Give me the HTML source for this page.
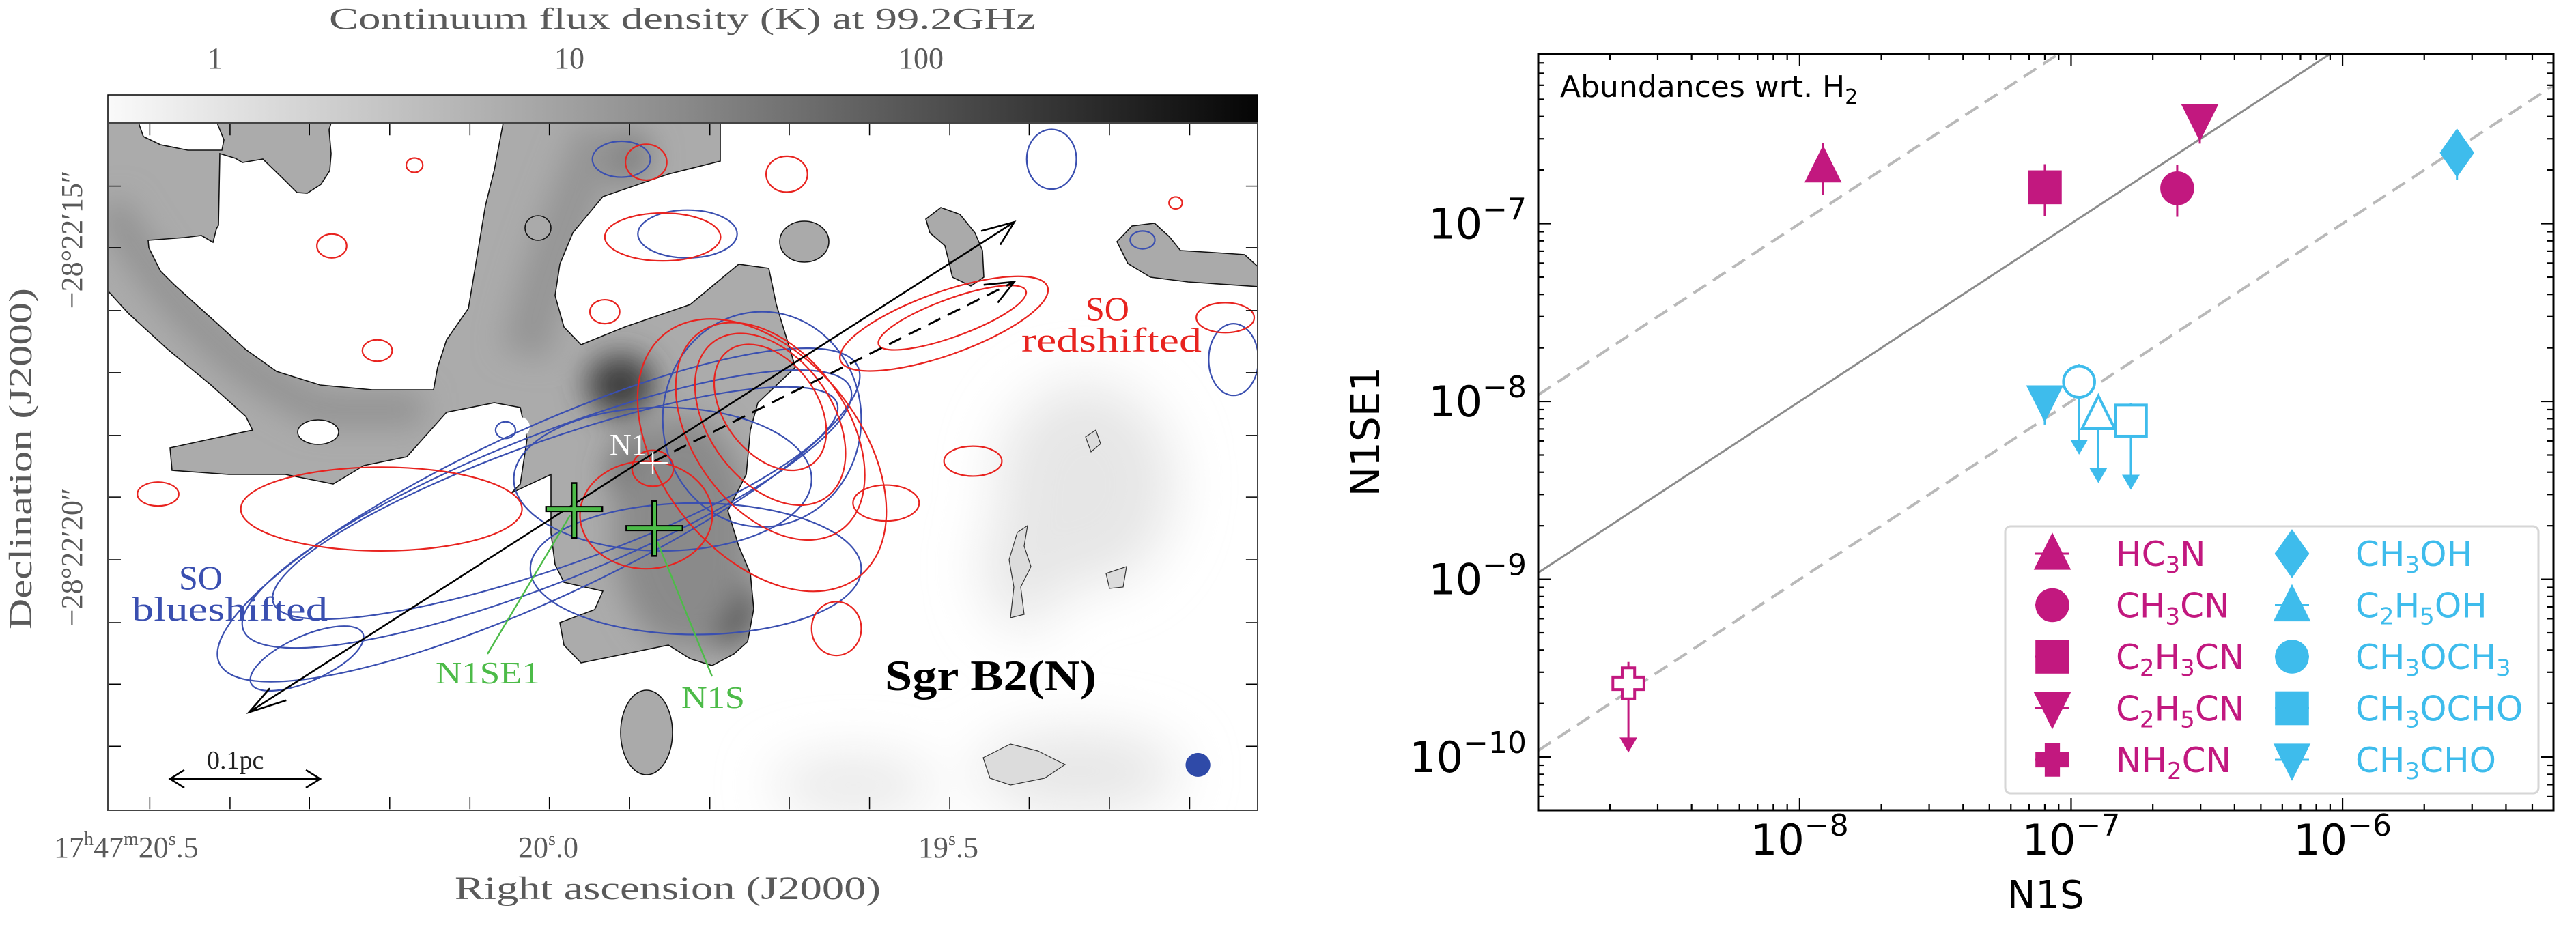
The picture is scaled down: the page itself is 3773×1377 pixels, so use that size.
<!DOCTYPE html>
<html><head><meta charset="utf-8"><style>
html,body{margin:0;padding:0;background:#fff;}
svg{display:block;}
.gl{font-family:"Liberation Serif",serif;fill:#5a5a5a;}
.dv{font-family:"DejaVu Sans","Liberation Sans",sans-serif;}
</style></head><body>
<svg id="root" xmlns="http://www.w3.org/2000/svg" width="3773" height="1377" viewBox="0 0 3773 1377">
<defs>
<linearGradient id="cb" x1="0" x2="1" y1="0" y2="0"><stop offset="0" stop-color="#fafafa"/><stop offset="0.5" stop-color="#8a8a8a"/><stop offset="1" stop-color="#050505"/></linearGradient>
<filter id="bl" x="-50%" y="-50%" width="200%" height="200%"><feGaussianBlur stdDeviation="22"/></filter>
<filter id="bl2" x="-50%" y="-50%" width="200%" height="200%"><feGaussianBlur stdDeviation="40"/></filter>
<clipPath id="mapclip"><rect x="158" y="180" width="1684" height="1007"/></clipPath>
</defs>

<g>
<text class="gl" x="482" y="42" font-size="44" textLength="1035" lengthAdjust="spacingAndGlyphs">Continuum flux density (K) at 99.2GHz</text>
<text class="gl" x="315" y="100" font-size="44" text-anchor="middle">1</text>
<text class="gl" x="834" y="100" font-size="44" text-anchor="middle">10</text>
<text class="gl" x="1349" y="100" font-size="44" text-anchor="middle">100</text>
<rect x="158" y="139" width="1684" height="41" fill="url(#cb)" stroke="#000" stroke-width="1.5"/>

<g clip-path="url(#mapclip)">
 <rect x="158" y="180" width="1684" height="1007" fill="#ababab"/>
 <g filter="url(#bl)">
  <ellipse cx="909" cy="564" rx="50" ry="45" fill="#3c3c3c"/>
  <ellipse cx="1056" cy="886" rx="50" ry="60" fill="#3a3a3a"/>
  <ellipse cx="953" cy="695" rx="60" ry="60" fill="#5c5c5c"/>
  <ellipse cx="915" cy="229" rx="40" ry="40" fill="#808080"/>
  <path d="M160,300 C230,420 330,540 470,600 L620,600" stroke="#939393" stroke-width="50" fill="none"/>
  <path d="M880,190 C830,320 790,420 770,520" stroke="#959595" stroke-width="70" fill="none"/>
  <ellipse cx="1000" cy="780" rx="100" ry="170" fill="#8a8a8a"/>
 </g>
 <g fill="#fff" stroke="#111" stroke-width="1.6">
  <polygon points="203,180 210,200 235,212 275,220 325,220 328,205 320,185 318,180"/>
  <polygon points="322,225 345,232 355,238 385,233 415,262 435,282 450,283 470,270 483,250 485,225 482,190 485,180 737,180 724,249 711,301 698,380 686,452 654,498 641,538 635,571 545,571 469,564 405,544 360,512 316,472 255,417 235,397 218,363 217,352 270,348 295,345 312,355 317,335 320,330"/>
  <polygon points="158,426 188,459 246,512 309,564 360,610 370,630 309,643 249,656 252,689 335,695 418,695 488,709 533,682 596,669 654,604 724,590 762,597 772,643 762,709 749,722 807,695 807,781 813,827 826,853 883,866 871,893 820,912 826,945 851,971 915,958 979,945 1011,965 1043,975 1075,958 1095,940 1104,892 1099,840 1082,800 1066,748 1093,695 1099,630 1110,590 1165,538 1137,446 1126,393 1082,387 1011,446 915,479 851,505 826,479 813,433 820,387 839,341 883,288 979,255 1055,236 1055,180 1850,180 1850,1195 150,1195 150,426"/>
  <ellipse cx="466" cy="633" rx="30" ry="18"/>
  <ellipse cx="762" cy="625" rx="14" ry="14" stroke="none"/>
 </g>
 <g filter="url(#bl2)" fill="#e6e6e6">
  <ellipse cx="1590" cy="710" rx="130" ry="150"/>
  <ellipse cx="1580" cy="1130" rx="150" ry="60"/>
  <ellipse cx="1250" cy="1150" rx="120" ry="40"/>
  <ellipse cx="1500" cy="830" rx="60" ry="90"/>
 </g>
 <g fill="#aaa" stroke="#111" stroke-width="1.6">
  <ellipse cx="1178" cy="354" rx="36" ry="30"/>
  <polygon points="1356,321 1378,304 1406,314 1428,341 1439,367 1441,406 1422,419 1395,406 1389,380 1384,360 1362,341"/>
  <polygon points="1636,354 1658,331 1691,327 1713,347 1729,367 1779,370 1823,373 1845,393 1845,420 1740,413 1685,406 1652,386"/>
  <ellipse cx="947" cy="1073" rx="38" ry="62"/>
  <ellipse cx="788" cy="334" rx="19" ry="18"/>
 </g>
 <g fill="#dcdcdc" stroke="#333" stroke-width="1.2">
  <polygon points="1590,640 1605,630 1612,650 1598,662"/>
  <polygon points="1490,780 1505,770 1500,800 1510,830 1495,860 1500,900 1480,905 1485,860 1478,820"/>
  <polygon points="1440,1110 1480,1090 1520,1100 1560,1120 1530,1140 1480,1150 1450,1140"/>
  <polygon points="1620,840 1650,830 1645,860 1625,862"/>
 </g>
 <g transform="matrix(1.2117 0 0 0.8758 1.28 1.18)">
 <g fill="none" stroke="#3a4fb0">
  <ellipse vector-effect="non-scaling-stroke" stroke-width="2.2" cx="650" cy="860" rx="460" ry="130" transform="rotate(-34 650 860)"/>
  <ellipse vector-effect="non-scaling-stroke" stroke-width="2.2" cx="660" cy="850" rx="420" ry="115" transform="rotate(-30 660 850)"/>
  <ellipse vector-effect="non-scaling-stroke" stroke-width="2.2" cx="670" cy="840" rx="380" ry="100" transform="rotate(-27 670 840)"/>
  <ellipse vector-effect="non-scaling-stroke" stroke-width="2.2" cx="800" cy="800" rx="180" ry="120"/>
  <ellipse vector-effect="non-scaling-stroke" stroke-width="2.2" cx="840" cy="950" rx="200" ry="110"/>
  <ellipse vector-effect="non-scaling-stroke" stroke-width="2.2" cx="920" cy="700" rx="120" ry="180"/>
  <ellipse vector-effect="non-scaling-stroke" stroke-width="2.2" cx="750" cy="265" rx="35" ry="30"/>
  <ellipse vector-effect="non-scaling-stroke" stroke-width="2.2" cx="1270" cy="265" rx="30" ry="50"/>
  <ellipse vector-effect="non-scaling-stroke" stroke-width="2.2" cx="1380" cy="400" rx="15" ry="15"/>
  <ellipse vector-effect="non-scaling-stroke" stroke-width="2.2" cx="610" cy="718" rx="12" ry="14"/>
  <ellipse vector-effect="non-scaling-stroke" stroke-width="2.2" cx="830" cy="390" rx="60" ry="40"/>
  <ellipse vector-effect="non-scaling-stroke" stroke-width="2.2" cx="370" cy="1100" rx="80" ry="35" transform="rotate(-35 370 1100)"/>
  <ellipse vector-effect="non-scaling-stroke" stroke-width="2.2" cx="1490" cy="600" rx="30" ry="60"/>
 </g>
 <g fill="none" stroke="#e8231f">
  <ellipse vector-effect="non-scaling-stroke" stroke-width="2.2" cx="930" cy="720" rx="100" ry="190" transform="rotate(-20 930 720)"/>
  <ellipse vector-effect="non-scaling-stroke" stroke-width="2.2" cx="930" cy="700" rx="80" ry="150" transform="rotate(-20 930 700)"/>
  <ellipse vector-effect="non-scaling-stroke" stroke-width="2.2" cx="930" cy="680" rx="60" ry="110" transform="rotate(-20 930 680)"/>
  <ellipse vector-effect="non-scaling-stroke" stroke-width="2.2" cx="920" cy="760" rx="130" ry="240" transform="rotate(-22 920 760)"/>
  <ellipse vector-effect="non-scaling-stroke" stroke-width="2.2" cx="1150" cy="530" rx="100" ry="30" transform="rotate(-28 1150 530)"/>
  <ellipse vector-effect="non-scaling-stroke" stroke-width="2.2" cx="1140" cy="540" rx="140" ry="50" transform="rotate(-28 1140 540)"/>
  <ellipse vector-effect="non-scaling-stroke" stroke-width="2.2" cx="788" cy="782" rx="25" ry="30"/>
  <ellipse vector-effect="non-scaling-stroke" stroke-width="2.2" cx="780" cy="860" rx="80" ry="90"/>
  <ellipse vector-effect="non-scaling-stroke" stroke-width="2.2" cx="460" cy="850" rx="170" ry="70"/>
  <ellipse vector-effect="non-scaling-stroke" stroke-width="2.2" cx="1175" cy="770" rx="35" ry="25"/>
  <ellipse vector-effect="non-scaling-stroke" stroke-width="2.2" cx="1070" cy="840" rx="40" ry="30"/>
  <ellipse vector-effect="non-scaling-stroke" stroke-width="2.2" cx="800" cy="395" rx="70" ry="40"/>
  <ellipse vector-effect="non-scaling-stroke" stroke-width="2.2" cx="780" cy="270" rx="25" ry="30"/>
  <ellipse vector-effect="non-scaling-stroke" stroke-width="2.2" cx="1010" cy="1050" rx="30" ry="45"/>
  <ellipse vector-effect="non-scaling-stroke" stroke-width="2.2" cx="1480" cy="530" rx="35" ry="25"/>
  <ellipse vector-effect="non-scaling-stroke" stroke-width="2.2" cx="400" cy="410" rx="18" ry="20"/>
  <ellipse vector-effect="non-scaling-stroke" stroke-width="2.2" cx="455" cy="585" rx="18" ry="18"/>
  <ellipse vector-effect="non-scaling-stroke" stroke-width="2.2" cx="190" cy="825" rx="25" ry="20"/>
  <ellipse vector-effect="non-scaling-stroke" stroke-width="2.2" cx="730" cy="520" rx="18" ry="20"/>
  <ellipse vector-effect="non-scaling-stroke" stroke-width="2.2" cx="950" cy="290" rx="25" ry="30"/>
  <ellipse vector-effect="non-scaling-stroke" stroke-width="2.2" cx="500" cy="275" rx="10" ry="12"/>
  <ellipse vector-effect="non-scaling-stroke" stroke-width="2.2" cx="1420" cy="338" rx="8" ry="10"/>
 </g>
 <g stroke="#000" fill="none">
  <line vector-effect="non-scaling-stroke" stroke-width="2.6" x1="300" y1="1190" x2="1225" y2="370"/>
  <path vector-effect="non-scaling-stroke" stroke-width="2.6" d="M325,1150 L300,1190 L345,1170 M1185,385 L1225,370 L1208,408"/>
  <line vector-effect="non-scaling-stroke" stroke-width="3" stroke-dasharray="20 12" x1="790" y1="770" x2="1225" y2="470"/>
  <path vector-effect="non-scaling-stroke" stroke-width="2.6" d="M1188,475 L1225,470 L1205,505"/>
 </g>
 <g>
  <path vector-effect="non-scaling-stroke" stroke="#000" stroke-width="9" d="M658,850 L728,850 M693,805 L693,900 M755,882 L825,882 M790,835 L790,930"/>
  <path vector-effect="non-scaling-stroke" stroke="#4cbb48" stroke-width="5" d="M660,850 L726,850 M693,808 L693,897 M757,882 L823,882 M790,838 L790,927"/>
  <path vector-effect="non-scaling-stroke" stroke="#fff" stroke-width="2.4" d="M772,773 L806,773 M788,755 L788,792"/>
  <ellipse cx="1447" cy="1278" rx="15" ry="20" fill="#2f4aa8"/>
 </g>
 </g>
</g>
<path stroke="#000" stroke-width="2.6" fill="none" d="M249,1141 L469,1141 M270,1128 L249,1141 L270,1154 M448,1128 L469,1141 L448,1154"/>
<path stroke="#4cbb48" stroke-width="2.4" fill="none" d="M714,958 L835,755 M1043,991 L963,794"/>
<g transform="matrix(1.2117 0 0 0.8758 1.28 1.18)" fill="none" stroke="#000">
  <path vector-effect="non-scaling-stroke" stroke-width="1.5" d="M180,1352v-20M277,1352v-20M373,1352v-20M470,1352v-20M567,1352v-20M663,1352v-20M760,1352v-20M857,1352v-20M953,1352v-20M1050,1352v-20M1147,1352v-20M1243,1352v-20M1340,1352v-20M1437,1352v-20 M180,205v20M277,205v20M373,205v20M470,205v20M567,205v20M663,205v20M760,205v20M857,205v20M953,205v20M1050,205v20M1147,205v20M1243,205v20M1340,205v20M1437,205v20 M130,310h15M130,413h15M130,518h15M130,622h15M130,727h15M130,830h15M130,935h15M130,1040h15M130,1143h15M130,1247h15 M1520,310h-15M1520,413h-15M1520,518h-15M1520,622h-15M1520,727h-15M1520,830h-15M1520,935h-15M1520,1040h-15M1520,1143h-15M1520,1247h-15"/>
</g>
<rect x="158" y="180" width="1684" height="1007" fill="none" stroke="#444" stroke-width="2"/>
<text class="gl" x="893" y="666" font-size="44" style="fill:#fff">N1</text>
<text class="gl" x="638" y="1001" font-size="46" textLength="153" lengthAdjust="spacingAndGlyphs" style="fill:#4cbb48">N1SE1</text>
<text class="gl" x="998" y="1037" font-size="46" textLength="93" lengthAdjust="spacingAndGlyphs" style="fill:#4cbb48">N1S</text>
<text class="gl" x="1590" y="469" font-size="50" style="fill:#e8231f">SO</text>
<text class="gl" x="1496" y="515" font-size="50" textLength="264" lengthAdjust="spacingAndGlyphs" style="fill:#e8231f">redshifted</text>
<text class="gl" x="262" y="863" font-size="50" style="fill:#3a4fb0">SO</text>
<text class="gl" x="193" y="909" font-size="50" textLength="287" lengthAdjust="spacingAndGlyphs" style="fill:#3a4fb0">blueshifted</text>
<text x="1296" y="1011" font-size="64" font-weight="bold" font-family="'Liberation Serif',serif" fill="#000" textLength="310" lengthAdjust="spacingAndGlyphs">Sgr B2(N)</text>
<text class="gl" x="303" y="1126" font-size="38" style="fill:#222">0.1pc</text>
<text class="gl" x="79" y="1256" font-size="44">17<tspan font-size="28" dy="-18">h</tspan><tspan dy="18">47</tspan><tspan font-size="28" dy="-18">m</tspan><tspan dy="18">20</tspan><tspan font-size="28" dy="-18">s</tspan><tspan dy="18">.5</tspan></text>
<text class="gl" x="803" y="1256" font-size="44" text-anchor="middle">20<tspan font-size="28" dy="-18">s</tspan><tspan dy="18">.0</tspan></text>
<text class="gl" x="1389" y="1256" font-size="44" text-anchor="middle">19<tspan font-size="28" dy="-18">s</tspan><tspan dy="18">.5</tspan></text>
<text class="gl" x="666" y="1317" font-size="48" textLength="624" lengthAdjust="spacingAndGlyphs">Right ascension (J2000)</text>
<text class="gl" transform="translate(46,672) rotate(-90)" font-size="48" text-anchor="middle" textLength="500" lengthAdjust="spacingAndGlyphs">Declination (J2000)</text>
<text class="gl" transform="translate(120,351) rotate(-90)" font-size="44" text-anchor="middle">−28°22′15″</text>
<text class="gl" transform="translate(120,816) rotate(-90)" font-size="44" text-anchor="middle">−28°22′20″</text>
</g>

<g id="chart"></g>
</svg>
<script>
const molecules = ["HC3N","CH3CN","C2H3CN","C2H5CN","NH2CN","CH3OH","C2H5OH","CH3OCH3","CH3OCHO","CH3CHO"];
const n1sValues = [1.22e-8, 2.46e-7, 8.0e-8, 2.98e-7, 2.34e-9, 2.64e-6, 1.26e-7, 1.07e-7, 1.66e-7, 8.0e-8];
const n1se1Values = [2.1e-7, 1.58e-7, 1.6e-7, 3.8e-7, 2.6e-10, 2.5e-7, 8.5e-9, 1.29e-8, 7.8e-9, 1.0e-8];
const upperLimitTo = [null, null, null, null, 1.1e-10, null, 3.6e-9, 5.2e-9, 3.3e-9, null];
const errLow = [0.16, 0.16, 0.16, 0.13, 0, 0.15, 0, 0, 0, 0.13];
const errHigh = [0.13, 0.13, 0.13, 0.08, 0.12, 0.13, 0.1, 0.1, 0.1, 0.08];
const markerShapes = ["triUp","circle","square","triDown","plus","diamond","triUp","circle","square","triDown"];
const filledMarkers = [true,true,true,true,false,true,false,false,false,true];
const groups = ["N","N","N","N","N","O","O","O","O","O"];
const xTicks = [-8,-7,-6];
const yTicks = [-10,-9,-8,-7];
const ratioLines = [1, 10, 0.1];
const legendLabels = [["HC","3","N"],["CH","3","CN"],["C","2","H","3","CN"],["C","2","H","5","CN"],["NH","2","CN"],["CH","3","OH"],["C","2","H","5","OH"],["CH","3","OCH","3",""],["CH","3","OCHO"],["CH","3","CHO"]];

const AX = {l:2253, r:3740, t:79, b:1187};
const XMIN = -8.963, XMAX = -5.223, YMIN = -10.299, YMAX = -6.046;
function xs(v){return AX.l + (Math.log10(v)-XMIN)/(XMAX-XMIN)*(AX.r-AX.l);}
function ys(v){return AX.b - (Math.log10(v)-YMIN)/(YMAX-YMIN)*(AX.b-AX.t);}
const COL = {N:"#c2187f", O:"#3ebcec"};
const NS="http://www.w3.org/2000/svg";
const chart=document.getElementById('chart');
function mk(tag,attrs,parent){const e=document.createElementNS(NS,tag);for(const k in attrs)e.setAttribute(k,attrs[k]);(parent||chart).appendChild(e);return e;}

const clip=mk('clipPath',{id:'axclip'});mk('rect',{x:AX.l,y:AX.t,width:AX.r-AX.l,height:AX.b-AX.t},clip);

ratioLines.forEach(function(k){
  const x1=Math.pow(10,XMIN), x2=Math.pow(10,XMAX);
  const ln=mk('line',{x1:xs(x1),y1:ys(x1*k),x2:xs(x2),y2:ys(x2*k),stroke:k===1?'#8c8c8c':'#b9b9b9','stroke-width':k===1?3:4,'stroke-dasharray':k===1?'none':'22 12','clip-path':'url(#axclip)'});
  
  
});

function marker(shape,cx,cy,s,col,filled,parent){
  const a={fill:filled?col:'#fff',stroke:col,'stroke-width':4};
  if(shape==='circle') return mk('ellipse',Object.assign({cx:cx,cy:cy,rx:s*0.95,ry:s*0.95},a),parent);
  if(shape==='square') return mk('rect',Object.assign({x:cx-s*0.95,y:cy-s*0.95,width:s*1.9,height:s*1.9},a),parent);
  if(shape==='triUp') return mk('polygon',Object.assign({points:[cx-s,cy+s*0.9,cx+s,cy+s*0.9,cx,cy-s*1.1].join(',')},a),parent);
  if(shape==='triDown') return mk('polygon',Object.assign({points:[cx-s,cy-s*0.9,cx+s,cy-s*0.9,cx,cy+s*1.1].join(',')},a),parent);
  if(shape==='diamond') return mk('polygon',Object.assign({points:[cx,cy-s*1.35,cx+s*0.95,cy,cx,cy+s*1.35,cx-s*0.95,cy].join(',')},a),parent);
  const w=s*0.38,h=s*0.95;
  return mk('path',Object.assign({d:`M${cx-w},${cy-h}h${2*w}v${h-w}h${h-w}v${2*w}h${-(h-w)}v${h-w}h${-2*w}v${-(h-w)}h${-(h-w)}v${-2*w}h${h-w}z`},a),parent);
}

molecules.forEach(function(m,i){
  const g=mk('g',{});
  
  
  const col=COL[groups[i]];
  const cx=xs(n1sValues[i]), cy=ys(n1se1Values[i]);
  const lv=Math.log10(n1se1Values[i]);
  mk('line',{x1:cx,x2:cx,y1:ys(Math.pow(10,lv+errHigh[i])),y2:ys(Math.pow(10,lv-errLow[i])),stroke:col,'stroke-width':3},g);
  if(upperLimitTo[i]!==null){
    const yl=ys(upperLimitTo[i]);
    mk('line',{x1:cx,x2:cx,y1:cy,y2:yl-10,stroke:col,'stroke-width':3},g);
    mk('polygon',{points:[cx-13,yl-18,cx+13,yl-18,cx,yl+4].join(','),fill:col},g);
  }
  marker(markerShapes[i],cx,cy,24,col,filledMarkers[i],g);
});

const fr=mk('rect',{x:AX.l,y:AX.t,width:AX.r-AX.l,height:AX.b-AX.t,fill:'none',stroke:'#000','stroke-width':3});


const tk=mk('g',{stroke:'#000','stroke-width':2.2});


for(let d=-11;d<=-5;d++){for(let k=1;k<10;k++){
  const v=k*Math.pow(10,d); const L=k===1?18:9;
  const lx=Math.log10(v);
  if(lx>XMIN && lx<XMAX){const x=xs(v);mk('line',{x1:x,x2:x,y1:AX.b,y2:AX.b-L},tk);mk('line',{x1:x,x2:x,y1:AX.t,y2:AX.t+L},tk);}
  if(lx>YMIN && lx<YMAX){const y=ys(v);mk('line',{x1:AX.l,x2:AX.l+L,y1:y,y2:y},tk);mk('line',{x1:AX.r,x2:AX.r-L,y1:y,y2:y},tk);}
}}
xTicks.forEach(function(p){
  const t=mk('text',{x:xs(Math.pow(10,p)),y:1252,'font-size':62,'text-anchor':'middle',class:'dv',fill:'#000'});
  
  
  t.appendChild(document.createTextNode('10'));
  const s=mk('tspan',{'font-size':44,dy:-28},t); s.textContent='−'+(-p);
});
yTicks.forEach(function(p){
  const t=mk('text',{x:2236,y:ys(Math.pow(10,p))+22,'font-size':62,'text-anchor':'end',class:'dv',fill:'#000'});
  
  
  t.appendChild(document.createTextNode('10'));
  const s=mk('tspan',{'font-size':44,dy:-28},t); s.textContent='−'+(-p);
});
const xt=mk('text',{x:2996,y:1330,'font-size':56,'text-anchor':'middle',class:'dv',fill:'#000'});


xt.textContent='N1S';
const yt=mk('text',{transform:'translate(2020,632) rotate(-90)','font-size':58,'text-anchor':'middle',class:'dv',fill:'#000'});


yt.textContent='N1SE1';
const ann=mk('text',{x:2285,y:142,'font-size':44,class:'dv',fill:'#000'});


ann.appendChild(document.createTextNode('Abundances wrt. H'));
const sb=mk('tspan',{'font-size':30,dy:10},ann); sb.textContent='2';

const lg=mk('g',{});


mk('rect',{x:2937,y:771,width:781,height:391,rx:8,fill:'#fff','fill-opacity':0.85,stroke:'#d6d6d6','stroke-width':3},lg);
molecules.forEach(function(m,i){
  const col=COL[groups[i]];
  const c=i<5?0:1, r=i%5;
  const mx=c?3357:3006, tx=c?3450:3099, y=811+r*75.5;
  const e=mk('g',{},lg);
  
  
  mk('line',{x1:mx-25,x2:mx+25,y1:y,y2:y,stroke:col,'stroke-width':3},e);
  marker(markerShapes[i],mx,y,24,col,true,e);
  const t=mk('text',{x:tx,y:y+18,'font-size':50,fill:col,class:'dv'},e);
  legendLabels[i].forEach(function(part,j){
    const sp=mk('tspan',{},t);
    if(j%2===1){sp.setAttribute('font-size','34');sp.setAttribute('dy','10');}
    else if(j>0){sp.setAttribute('dy','-10');}
    sp.textContent=part;
  });
});
</script>
</body></html>
